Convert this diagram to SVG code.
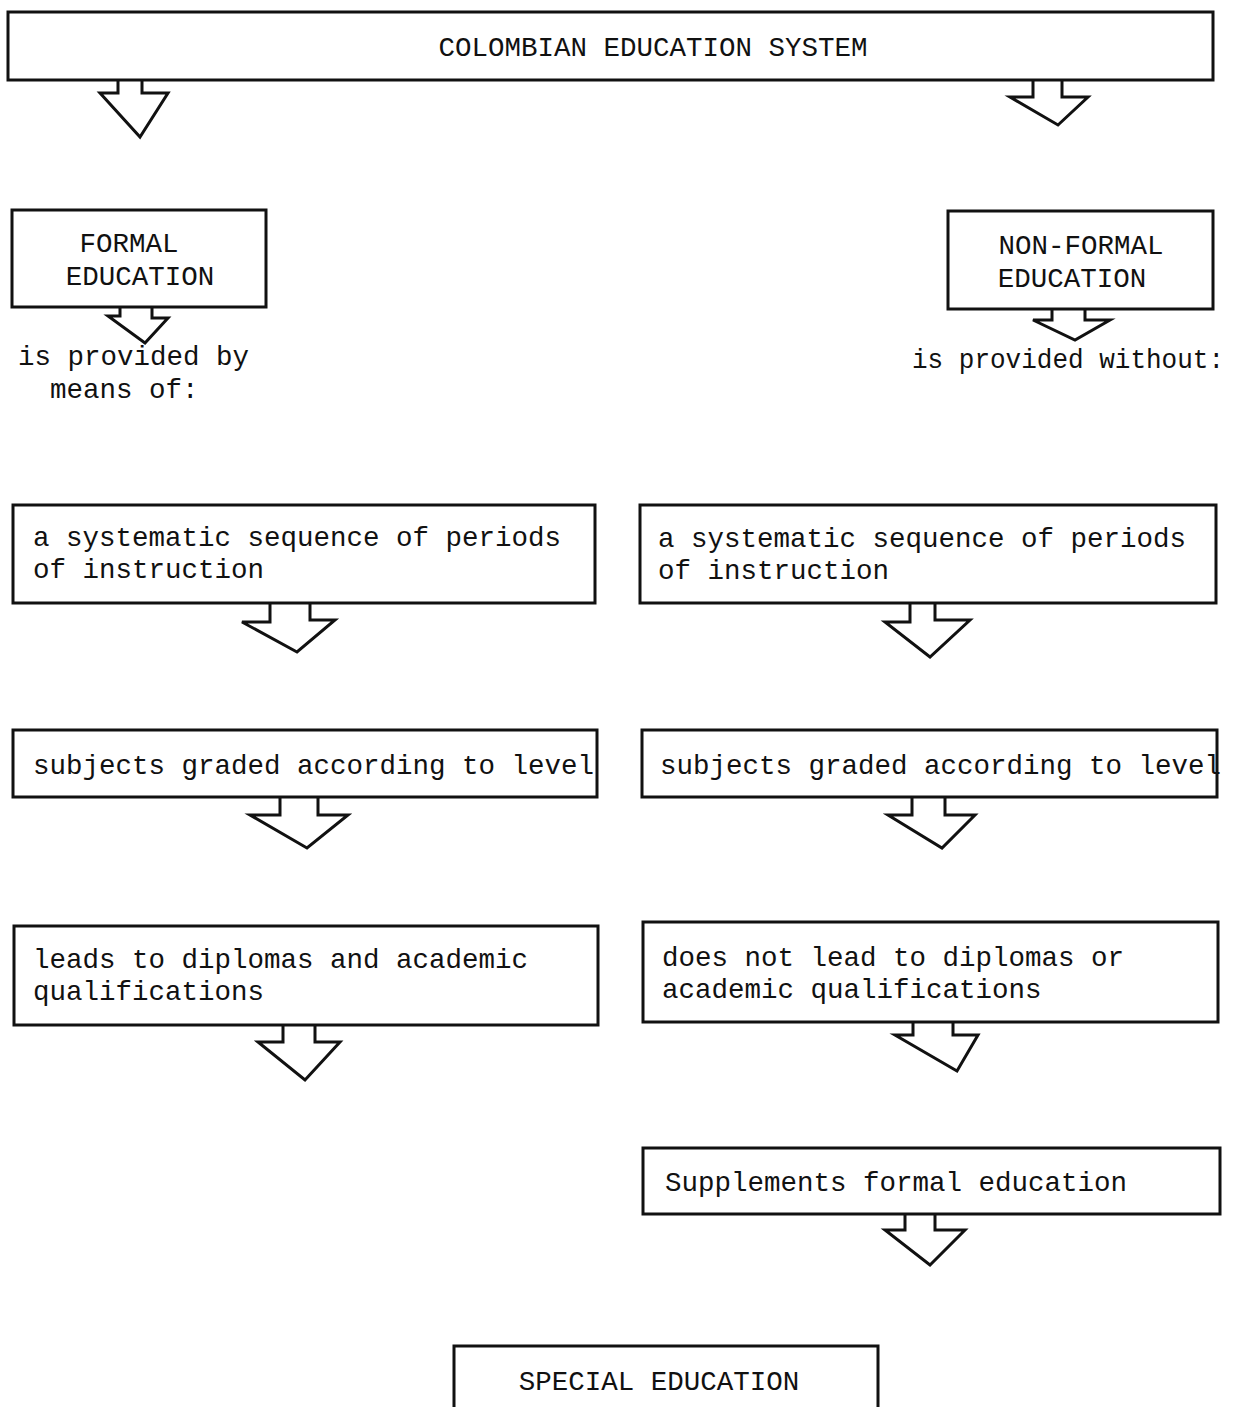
<svg xmlns="http://www.w3.org/2000/svg" width="1245" height="1407" viewBox="0 0 1245 1407">
<style>
.box{fill:none;stroke:#111;stroke-width:3}
.arr{fill:none;stroke:#111;stroke-width:3;stroke-linejoin:miter}
text{font-family:"Liberation Mono","Courier New",monospace;font-size:27.5px;fill:#111}
.c{text-anchor:middle}
</style>
<rect width="1245" height="1407" fill="#fff"/>
<g id="n-system"><rect class="box" x="8" y="12" width="1205" height="68"/><text class="c" x="653" y="56">COLOMBIAN EDUCATION SYSTEM</text></g>
<g id="n-formal"><rect class="box" x="12" y="210" width="254" height="97"/><text class="c" x="129" y="252">FORMAL</text><text class="c" x="140" y="285">EDUCATION</text></g>
<g id="n-nonformal"><rect class="box" x="948" y="211" width="265" height="98"/><text class="c" x="1081" y="254">NON-FORMAL</text><text class="c" x="1072" y="287">EDUCATION</text></g>
<g id="t-by"><text x="18" y="365">is provided by</text><text x="50" y="398">means of:</text></g>
<g id="t-without"><text x="912" y="368" font-size="26" textLength="312" lengthAdjust="spacingAndGlyphs">is provided without:</text></g>
<g id="n-l1"><rect class="box" x="13" y="505" width="582" height="98"/><text x="33" y="546">a systematic sequence of periods</text><text x="33" y="578">of instruction</text></g>
<g id="n-r1"><rect class="box" x="640" y="505" width="576" height="98"/><text x="658" y="547">a systematic sequence of periods</text><text x="658" y="579">of instruction</text></g>
<g id="n-l2"><rect class="box" x="13" y="730" width="584" height="67"/><text x="33" y="774">subjects graded according to level</text></g>
<g id="n-r2"><rect class="box" x="642" y="730" width="575" height="67"/><text x="660" y="774">subjects graded according to level</text></g>
<g id="n-l3"><rect class="box" x="14" y="926" width="584" height="99"/><text x="33" y="968">leads to diplomas and academic</text><text x="33" y="1000">qualifications</text></g>
<g id="n-r3"><rect class="box" x="643" y="922" width="575" height="100"/><text x="662" y="966">does not lead to diplomas or</text><text x="662" y="998">academic qualifications</text></g>
<g id="n-r4"><rect class="box" x="643" y="1148" width="577" height="66"/><text x="665" y="1191">Supplements formal education</text></g>
<g id="n-special"><path class="box" d="M454 1407 V1346 H878 V1407"/><text class="c" x="659" y="1390">SPECIAL EDUCATION</text></g>
<g id="connectors">
<path class="arr" d="M118 80 V93 H100 L140 137 L168 93 H142 V80"/>
<path class="arr" d="M1033 80 V97 H1010 L1058 125 L1088 97 H1062 V80"/>
<path class="arr" d="M120 307 V316 H108 L145 343 L168 318 H152 V307"/>
<path class="arr" d="M1052 309 V320 H1033 L1075 340 L1110 320 H1085 V309"/>
<path class="arr" d="M270 603 V622 H242 L297 652 L335 620 H310 V603"/>
<path class="arr" d="M910 603 V622 H885 L930 657 L970 620 H935 V603"/>
<path class="arr" d="M280 797 V815 H250 L307 848 L348 815 H318 V797"/>
<path class="arr" d="M912 797 V815 H888 L942 848 L975 815 H945 V797"/>
<path class="arr" d="M283 1025 V1042 H258 L305 1080 L340 1042 H315 V1025"/>
<path class="arr" d="M913 1022 V1035 H895 L957 1071 L978 1035 H953 V1022"/>
<path class="arr" d="M905 1214 V1230 H885 L930 1265 L965 1230 H935 V1214"/>
</g>
</svg>
